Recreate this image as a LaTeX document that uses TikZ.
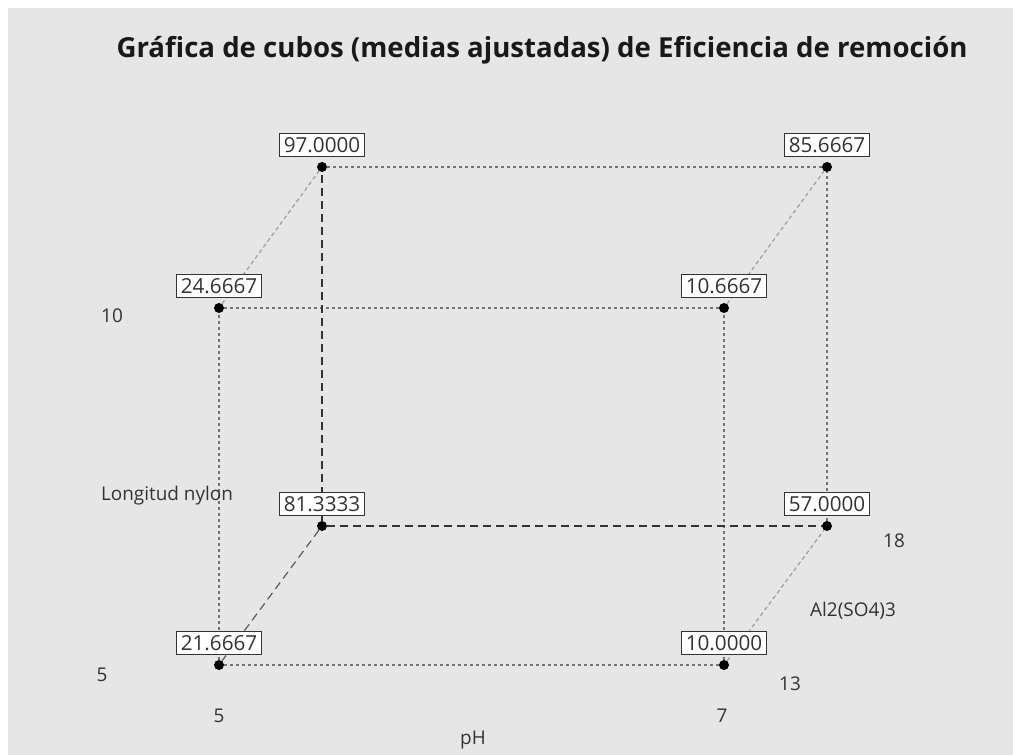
\documentclass[tikz,border=0pt]{standalone}
\usepackage{fontspec}
\setmainfont{Open Sans}
\usetikzlibrary{positioning}
\definecolor{panel}{HTML}{E6E6E6}
\definecolor{ink}{HTML}{333333}

\begin{document}
\begin{tikzpicture}[x=0.75pt,y=-0.75pt,
    corner/.style={circle,fill=black,inner sep=0pt,minimum size=7.5pt},
    value/.style={draw=ink,fill=white,line width=0.6pt,inner xsep=3pt,inner ysep=1pt,
        minimum height=17.5pt,font=\fontsize{15.5}{15.5}\selectfont,text=ink},
    axis/.style={font=\fontsize{14.2}{14.2}\selectfont,text=ink},
    front/.style={draw=black!55,line width=0.9pt,dash pattern=on 2.25pt off 2.25pt},
    depth/.style={draw=black!38,line width=0.9pt,dash pattern=on 3pt off 2.25pt},
    hidden/.style={draw=black!80,line width=0.9pt,dash pattern=on 6pt off 3.75pt},
    node distance=3.5pt]
    % panel
    \fill[white] (0,0) rectangle (1013,755);
    \fill[panel] (8,8) rectangle (1013,755);
    \node[font=\fontsize{20.7}{20.7}\selectfont\bfseries,text=black!90] (title) at (542,50)
        {Gráfica de cubos (medias ajustadas) de Eficiencia de remoción};

    % cube corners: f = Al2(SO4)3 13, b = 18; l/r = pH; b/t = nylon
    \node[corner] (flb) at (219,665) {};
    \node[corner] (frb) at (724,665) {};
    \node[corner] (flt) at (219,308) {};
    \node[corner] (frt) at (724,308) {};
    \node[corner] (blb) at (322,526) {};
    \node[corner] (brb) at (827,526) {};
    \node[corner] (blt) at (322,167) {};
    \node[corner] (brt) at (827,167) {};

    % edges
    \draw[front] (flb) -- (frb);
    \draw[front] (flt) -- (frt);
    \draw[front] (flb) -- (flt);
    \draw[front] (frb) -- (frt);
    \draw[front] (blt) -- (brt);
    \draw[front] (brb) -- (brt);
    \draw[depth] (flt) -- (blt);
    \draw[depth] (frt) -- (brt);
    \draw[depth] (frb) -- (brb);
    \draw[hidden] (blb) -- (blt);
    \draw[hidden] (blb) -- (brb);
    \draw[hidden,draw=black!65] (blb) -- (flb);

    % fitted means
    \node[value,above=of blt] (vblt) {97.0000};
    \node[value,above=of brt] (vbrt) {85.6667};
    \node[value,above=of flt] (vflt) {24.6667};
    \node[value,above=of frt] (vfrt) {10.6667};
    \node[value,above=of blb] (vblb) {81.3333};
    \node[value,above=of brb] (vbrb) {57.0000};
    \node[value,above=of flb] (vflb) {21.6667};
    \node[value,above=of frb] (vfrb) {10.0000};

    % factor levels
    \node[axis] (nyhi) at (112,316) {10};
    \node[axis] (nylo) at (102,675) {5};
    \node[axis] (nyname) at (167,496) {Longitud nylon};
    \node[axis] (phlo) at (219,716) {5};
    \node[axis] (phhi) at (722,716) {7};
    \node[axis] (phname) at (473,740) {pH};
    \node[axis] (alhi) at (894,541) {18};
    \node[axis] (allo) at (790,684) {13};
    \node[axis] (alname) at (853,611) {Al2(SO4)3};
\end{tikzpicture}
\end{document}
